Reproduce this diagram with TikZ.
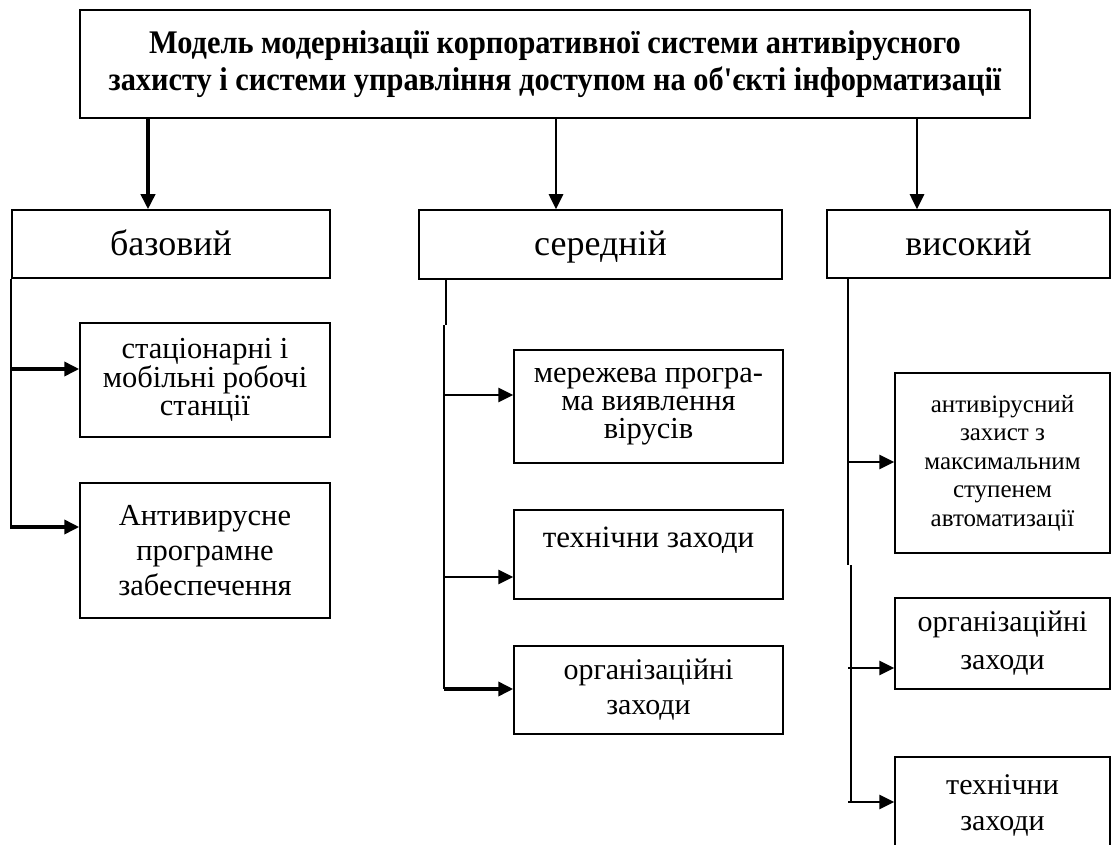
\documentclass[tikz,border=0pt]{standalone}
\usepackage{fontspec}
\setmainfont{Liberation Serif}
\newfontfamily\titlefont[FakeStretch=0.92]{Liberation Serif Bold}
\usetikzlibrary{arrows.meta}
\tikzset{
  box/.style={draw, line width=1.5pt, inner sep=0pt, align=center},
  lvl/.style={box, font=\fontsize{36}{40}\selectfont, text height=29pt, text depth=7pt},
  conn/.style={line width=1.8pt},
  arr/.style={line width=2.6pt, -{Triangle[length=15pt,width=14pt]}},
  arrthick/.style={line width=3.6pt, -{Triangle[length=15pt,width=14pt]}},
}
\begin{document}
\begin{tikzpicture}[x=1pt,y=-1pt]
\useasboundingbox (0,0) rectangle (1111,845);
\clip (0,0) rectangle (1111,845);
\fill[white] (0,0) rectangle (1111,845);
% title
\node[box, minimum width=950pt, minimum height=108pt, font=\titlefont\fontsize{33}{37}\selectfont] (top) at (555,64)
 {Модель модернізації корпоративної системи антивірусного\\захисту і системи управління доступом на об{\char"27}єкті інформатизації};
% levels
\node[lvl, minimum width=318pt, minimum height=68pt] (base) at (171,244) {базовий};
\node[lvl, minimum width=363pt, minimum height=69pt] (mid) at (600.5,244.5) {середній};
\node[lvl, minimum width=283pt, minimum height=68pt] (high) at (968.5,244) {високий};
% left column
\node[box, minimum width=250pt, minimum height=114pt, font=\fontsize{30.5}{28}\selectfont] (b1) at (205,380) {стаціонарні і\\мобільні робочі\\станції};
\node[box, minimum width=250pt, minimum height=135pt, font=\fontsize{30.5}{35}\selectfont] (b2) at (205,550.5) {Антивирусне\\програмне\\забеспечення};
% middle column
\node[box, minimum width=269pt, minimum height=113pt, font=\fontsize{30.5}{28}\selectfont] (m1) at (648.5,406.5) {мережева програ-\\ма виявлення\\вірусів};
\node[box, minimum width=269pt, minimum height=89pt, font=\fontsize{31}{34}\selectfont] (m2) at (648.5,554.5) {технічни заходи\\\mbox{}};
\node[box, minimum width=269pt, minimum height=88pt, font=\fontsize{30}{35}\selectfont] (m3) at (648.5,690) {організаційні\\заходи};
% right column
\node[box, minimum width=215pt, minimum height=180pt, font=\fontsize{25}{28.5}\selectfont] (r1) at (1002.5,463) {антивірусний\\захист з\\максимальним\\ступенем\\автоматизації};
\node[box, minimum width=215pt, minimum height=91pt, font=\fontsize{30}{38}\selectfont] (r2) at (1002.5,643.5) {організаційні\\заходи};
\node[box, minimum width=215pt, minimum height=96pt, font=\fontsize{30}{36}\selectfont] (r3) at (1002.5,805) {технічни\\заходи};
% top arrows
\coordinate (t1) at (148,0);
\coordinate (t2) at (556,0);
\coordinate (t3) at (917,0);
\draw[arrthick] (top.south -| t1) -- (base.north -| t1);
\draw[arr] (top.south -| t2) -- (mid.north -| t2);
\draw[arr] (top.south -| t3) -- (high.north -| t3);
% left connectors
\coordinate (b1s) at (10,369);
\coordinate (b2s) at (10,527);
\draw[conn] (base.south west) -- (base.south west |- b2s);
\draw[arrthick] (b1s) -- (b1s -| b1.west);
\draw[arrthick] (b2s) -- (b2s -| b2.west);
% middle connectors
\coordinate (mj) at (446,325);
\coordinate (mj2) at (444,325);
\coordinate (m1s) at (444,395);
\coordinate (m2s) at (444,577);
\coordinate (m3s) at (444,689);
\draw[conn] (mid.south -| mj) -- (mj);
\draw[conn] (mj2) -- (m3s);
\draw[arr] (m1s) -- (m1s -| m1.west);
\draw[arr] (m2s) -- (m2s -| m2.west);
\draw[arrthick] (m3s) -- (m3s -| m3.west);
% right connectors
\coordinate (rj) at (848,565);
\coordinate (rj2) at (851,565);
\coordinate (r1s) at (848,462);
\coordinate (r2s) at (848,668);
\coordinate (r3s) at (848,802);
\coordinate (r3e) at (851,802);
\draw[conn] (high.south -| rj) -- (rj);
\draw[conn] (rj2) -- (r3e);
\draw[arr] (r1s) -- (r1s -| r1.west);
\draw[arr] (r2s) -- (r2s -| r2.west);
\draw[arr] (r3s) -- (r3s -| r3.west);
\end{tikzpicture}
\end{document}
